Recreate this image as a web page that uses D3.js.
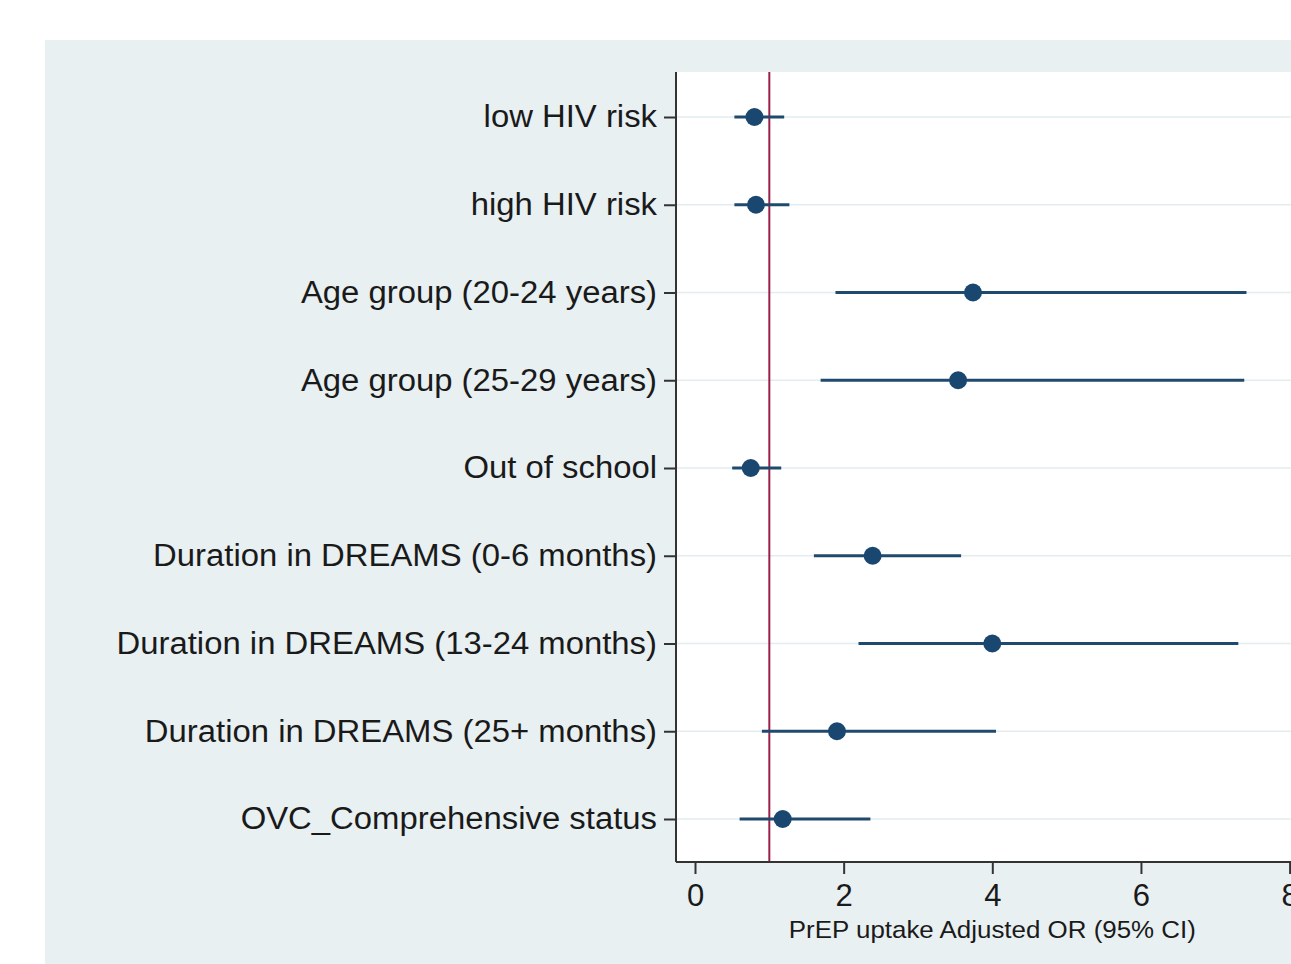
<!DOCTYPE html>
<html>
<head>
<meta charset="utf-8">
<script src="https://cdn.jsdelivr.net/npm/d3@7"></script>
<style>
  html, body { margin: 0; padding: 0; background: #ffffff; }
  svg { display: block; }
  text { font-family: "Liberation Sans", Arial, sans-serif; fill: #1a1a1a; }
</style>
</head>
<body>
<svg id="chart" width="1291" height="964"></svg>
<script>
// Predictors of PrEP uptake: adjusted odds ratios with 95% confidence intervals
const categories = [
  "low HIV risk",
  "high HIV risk",
  "Age group (20-24 years)",
  "Age group (25-29 years)",
  "Out of school",
  "Duration in DREAMS (0-6 months)",
  "Duration in DREAMS (13-24 months)",
  "Duration in DREAMS (25+ months)",
  "OVC_Comprehensive status"
];
const oddsRatio = [0.80, 0.82, 3.74, 3.54, 0.75, 2.39, 4.00, 1.91, 1.18];
const ciLower   = [0.53, 0.53, 1.89, 1.69, 0.50, 1.60, 2.20, 0.90, 0.60];
const ciUpper   = [1.20, 1.27, 7.42, 7.39, 1.16, 3.58, 7.31, 4.05, 2.36];
const xTicks = [0, 2, 4, 6, 8];
const referenceOR = 1;
const xTitle = "PrEP uptake Adjusted OR (95% CI)";

const svg = d3.select("#chart");

// outer graph region
svg.append("rect")
  .attr("x", 45).attr("y", 40)
  .attr("width", 1246).attr("height", 924)
  .attr("fill", "#e8f0f2");

const plot = { left: 676, top: 72, right: 1291 + 30, bottom: 862 };

// plot region
svg.append("rect")
  .attr("x", plot.left).attr("y", plot.top)
  .attr("width", plot.right - plot.left).attr("height", plot.bottom - plot.top)
  .attr("fill", "#ffffff");

const x = d3.scaleLinear().domain([0, 8]).range([695, 1289.6]);
const y = d3.scalePoint().domain(categories).range([117, 819]);

// horizontal grid lines
svg.append("g")
  .selectAll("line")
  .data(categories)
  .join("line")
  .attr("x1", plot.left).attr("x2", plot.right)
  .attr("y1", d => y(d)).attr("y2", d => y(d))
  .attr("stroke", "#e3ecef")
  .attr("stroke-width", 1.5);

// reference line at OR = 1
svg.append("line")
  .attr("x1", x(referenceOR)).attr("x2", x(referenceOR))
  .attr("y1", plot.top).attr("y2", plot.bottom)
  .attr("stroke", "#9c1f4a")
  .attr("stroke-width", 2);

const rows = categories.map((c, i) => ({ c, or: oddsRatio[i], lo: ciLower[i], hi: ciUpper[i] }));

// confidence intervals
svg.append("g")
  .selectAll("line")
  .data(rows)
  .join("line")
  .attr("x1", d => x(d.lo)).attr("x2", d => x(d.hi))
  .attr("y1", d => y(d.c)).attr("y2", d => y(d.c))
  .attr("stroke", "#1f4a6e")
  .attr("stroke-width", 3);

// point estimates
svg.append("g")
  .selectAll("circle")
  .data(rows)
  .join("circle")
  .attr("cx", d => x(d.or))
  .attr("cy", d => y(d.c))
  .attr("r", 9)
  .attr("fill", "#1a476f");

// y axis
const yAxis = d3.axisLeft(y).tickSize(12).tickPadding(0);
const yg = svg.append("g")
  .attr("transform", `translate(${plot.left},0)`)
  .call(yAxis);
yg.select(".domain").remove();
yg.append("line")
  .attr("x1", 0).attr("x2", 0)
  .attr("y1", plot.top).attr("y2", plot.bottom)
  .attr("stroke", "#333333").attr("stroke-width", 2);
yg.selectAll(".tick line").attr("stroke", "#333333").attr("stroke-width", 2);
yg.selectAll(".tick text")
  .attr("x", null)
  .attr("font-size", 31)
  .attr("transform", "translate(-19,0) scale(1.06,1)")
  .style("font-family", "'Liberation Sans', Arial, sans-serif")
  .attr("fill", "#1a1a1a");

// x axis
const xAxis = d3.axisBottom(x).tickValues(xTicks).tickSize(12).tickPadding(10);
const xg = svg.append("g")
  .attr("transform", `translate(0,${plot.bottom})`)
  .call(xAxis);
xg.select(".domain").remove();
xg.append("line")
  .attr("x1", plot.left).attr("x2", plot.right)
  .attr("y1", 0).attr("y2", 0)
  .attr("stroke", "#333333").attr("stroke-width", 2);
xg.selectAll(".tick line").attr("stroke", "#333333").attr("stroke-width", 2);
xg.selectAll(".tick text")
  .attr("font-size", 31)
  .style("font-family", "'Liberation Sans', Arial, sans-serif")
  .attr("fill", "#1a1a1a");

// x axis title
svg.append("text")
  .attr("transform", `translate(${x(4)},938) scale(1.08,1)`)
  .attr("text-anchor", "middle")
  .attr("font-size", 24)
  .text(xTitle);
</script>
</body>
</html>
